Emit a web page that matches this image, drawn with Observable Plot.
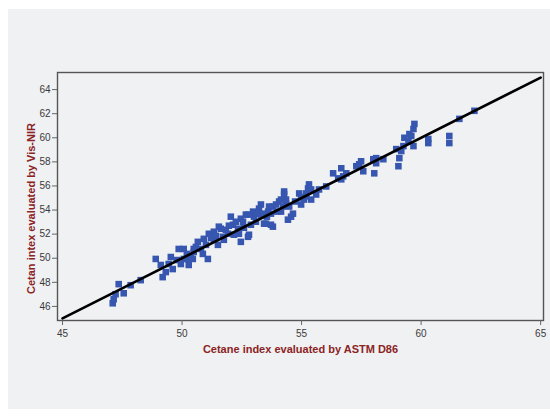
<!DOCTYPE html>
<html>
<head>
<meta charset="utf-8">
<script src="https://cdn.jsdelivr.net/npm/d3@7"></script>
<script src="https://cdn.jsdelivr.net/npm/@observablehq/plot@0.6"></script>
<style>
  html, body { margin: 0; padding: 0; background: #ffffff; }
  #chart { position: absolute; left: 8px; top: 9px; }
</style>
</head>
<body>
<div id="chart"></div>
<script>
// Cetane index by ASTM D86 (x) and by Vis-NIR (y)
const cetaneASTM = [
  47.10, 47.14, 47.22, 47.35, 47.56, 47.85, 48.27, 48.90, 49.11, 49.19,
  49.32, 49.53, 49.61, 49.86, 49.95, 50.07, 50.28, 50.37, 50.49, 50.07,
  50.24, 50.45, 50.49, 50.66, 50.79, 50.91, 51.00, 51.08, 51.12, 51.33,
  51.33, 51.50, 51.62, 51.71, 51.75, 51.92, 52.04, 52.13, 52.17, 52.34,
  52.46, 52.55, 52.67, 52.76, 52.80, 52.88, 52.97, 53.09, 53.22, 53.30,
  53.43, 53.60, 53.72, 53.80, 53.93, 52.46, 52.76, 53.30, 53.80, 53.51,
  53.72, 54.06, 54.14, 54.27, 54.35, 54.56, 54.43, 54.48, 54.90, 54.98,
  55.10, 55.40, 55.40, 55.27, 55.31, 56.03, 56.32, 56.53, 56.66, 56.66,
  56.87, 56.74, 57.29, 57.41, 57.49, 57.58, 58.00, 58.12, 58.04, 58.42,
  58.12, 58.96, 59.09, 59.05, 59.26, 59.47, 59.59, 59.68, 59.72, 60.30,
  60.30, 59.30, 59.51, 59.68, 59.17, 61.18, 61.18, 61.60, 62.23, 54.64,
  54.35, 54.27, 55.61, 55.73, 55.19,
  50.58, 50.87, 51.21, 51.42, 51.54, 51.83, 51.96, 52.25, 52.38, 52.59,
  53.01, 53.13, 53.39, 53.55, 53.64, 53.97, 54.14, 54.22, 54.73, 54.98,
  55.19, 50.20, 49.78, 49.44
];
const cetaneVisNIR = [
  46.26, 46.59, 47.01, 47.85, 47.09, 47.76, 48.18, 49.94, 49.44, 48.43,
  48.85, 50.10, 49.10, 50.77, 49.52, 49.94, 49.44, 50.10, 50.77, 50.77,
  49.94, 49.94, 50.52, 51.36, 50.77, 51.61, 51.11, 49.94, 52.03, 52.20,
  51.53, 51.11, 52.45, 51.78, 51.53, 52.03, 53.45, 52.78, 51.95, 52.45,
  51.36, 53.03, 53.62, 51.78, 51.95, 52.78, 53.87, 53.03, 54.12, 54.46,
  52.87, 53.87, 52.78, 54.29, 54.46, 53.28, 53.62, 53.62, 52.62, 52.87,
  53.70, 54.71, 53.87, 55.29, 54.54, 53.45, 53.20, 54.29, 55.38, 54.46,
  54.87, 55.71, 54.87, 55.79, 56.13, 55.96, 57.05, 56.63, 57.47, 56.55,
  57.05, 56.80, 57.64, 57.80, 58.05, 57.22, 58.22, 58.31, 57.05, 58.22,
  57.89, 59.06, 58.31, 57.64, 59.31, 59.73, 60.15, 60.73, 61.15, 59.90,
  59.56, 60.00, 60.31, 59.31, 58.90, 60.15, 59.56, 61.57, 62.24, 53.70,
  54.87, 55.54, 55.29, 55.71, 55.13,
  50.94, 50.36, 51.69, 51.86, 52.62, 52.36, 52.70, 53.03, 52.03, 52.53,
  53.45, 53.70, 53.70, 53.45, 54.29, 53.87, 54.87, 54.29, 54.71, 55.04,
  55.38, 50.36, 49.85, 49.52
];
const xTicks = [45, 50, 55, 60, 65];
const yTicks = [46, 48, 50, 52, 54, 56, 58, 60, 62, 64];
const lineX = [45, 65];
const lineY = [45, 65];
const xLabel = "Cetane index evaluated by ASTM D86";
const yLabel = "Cetan intex evaluated by Vis-NIR";

const points = cetaneASTM.map((x, i) => ({x, y: cetaneVisNIR[i]}));
const linePts = lineX.map((x, i) => ({x, y: lineY[i]}));

const chart = Plot.plot({
  width: 542,
  height: 400,
  marginLeft: 49,
  marginRight: 7,
  marginTop: 63,
  marginBottom: 89,
  x: {domain: [44.79, 65.12]},
  y: {domain: [44.83, 65.42]},
  style: {
    background: "#f0f1f3",
    fontFamily: "'Liberation Sans', Arial, sans-serif",
    fontSize: "10px",
    color: "#3a3a3a"
  },
  marks: [
    Plot.dot(points, {x: "x", y: "y", symbol: "square", r: 3.7, fill: "#3656b0", stroke: "none"}),
    Plot.line(linePts, {x: "x", y: "y", stroke: "#000", strokeWidth: 2.6}),
    Plot.frame({stroke: "#555", strokeWidth: 1.4}),
    Plot.axisX({ticks: xTicks, tickSize: 5, tickPadding: 4, label: null, stroke: "#666"}),
    Plot.axisY({ticks: yTicks, tickSize: 5, tickPadding: 2, label: null, stroke: "#666"}),
    Plot.text([xLabel], {frameAnchor: "bottom", dy: 32, text: d => d, fill: "#8b2323", fontWeight: "bold", fontSize: 11}),
    Plot.text([yLabel], {frameAnchor: "left", textAnchor: "middle", dx: -26, dy: 12, rotate: -90, text: d => d, fill: "#8b2323", fontWeight: "bold", fontSize: 11})
  ]
});
document.getElementById("chart").appendChild(chart);
</script>
</body>
</html>
